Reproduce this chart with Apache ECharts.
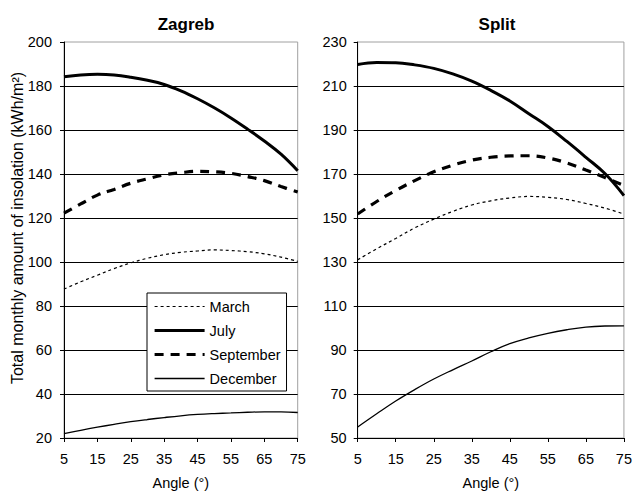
<!DOCTYPE html>
<html>
<head>
<meta charset="utf-8">
<script src="https://cdn.jsdelivr.net/npm/echarts@6/dist/echarts.min.js"></script>
<style>
html,body{margin:0;padding:0;background:#fff;}
#chart{width:635px;height:495px;}
</style>
</head>
<body>
<div id="chart"></div>
<script>
// Angles (x)
const angles = [5, 10, 15, 20, 25, 30, 35, 40, 45, 50, 55, 60, 65, 70, 75];
const xTicks = [5, 15, 25, 35, 45, 55, 65, 75];

// Zagreb
const zagrebMarch     = [87.7, 91, 94, 97, 99.6, 101.7, 103.3, 104.4, 105, 105.5, 105.2, 104.7, 103.7, 102.2, 100.3];
const zagrebJuly      = [184.2, 185, 185.3, 185, 184, 182.6, 180.7, 177.8, 174.2, 170.1, 165.5, 160.4, 155, 149, 141.5];
const zagrebSeptember = [122.2, 126.4, 130.4, 133, 135.8, 137.8, 139.6, 140.6, 141.2, 141, 140.3, 138.8, 137, 134.3, 131.8];
const zagrebDecember  = [22, 23.5, 24.9, 26.2, 27.4, 28.4, 29.3, 30.1, 30.7, 31.1, 31.4, 31.7, 31.9, 31.9, 31.6];

// Split
const splitMarch     = [131, 136, 140.7, 145.5, 149.5, 153, 155.9, 157.8, 159.1, 159.8, 159.4, 158.4, 156.6, 154.5, 151.8];
const splitJuly      = [219.8, 220.7, 220.6, 219.6, 218, 215.5, 212.2, 208, 203.2, 197.4, 191.6, 184.8, 177.6, 170.2, 160.2];
const splitSeptember = [151.8, 157.5, 162.5, 167, 171, 174, 176.3, 177.6, 178.2, 178.3, 177.3, 175, 171.8, 168.4, 164.8];
const splitDecember  = [55, 61, 66.8, 72, 76.8, 81, 85, 89.2, 92.9, 95.5, 97.6, 99.2, 100.4, 100.9, 101];

const panels = ['Zagreb', 'Split'];
const months = ['March', 'July', 'September', 'December'];
const yRanges = [[20, 200], [50, 230]];
const yName = 'Total monthly amount of insolation (kWh/m²)';
const xName = 'Angle (°)';

const FONT = 'Liberation Sans, Arial, sans-serif';
const FS = 14.5;

function pairs(vals) { return angles.map((a, i) => [a, vals[i]]); }

const styles = {
  March:     {width: 1.2, type: [3, 3]},
  July:      {width: 3, type: 'solid'},
  September: {width: 3.2, type: [9, 7]},
  December:  {width: 1.3, type: 'solid'}
};

const seriesData = [
  {March: zagrebMarch, July: zagrebJuly, September: zagrebSeptember, December: zagrebDecember},
  {March: splitMarch, July: splitJuly, September: splitSeptember, December: splitDecember}
];

const series = [];
seriesData.forEach((set, idx) => {
  months.forEach(name => {
    series.push({
      name: name,
      type: 'line',
      xAxisIndex: idx,
      yAxisIndex: idx,
      data: pairs(set[name]),
      smooth: 0.4,
      symbol: 'none',
      z: name === 'July' ? 4 : 3,
      lineStyle: {color: '#000', width: styles[name].width, type: styles[name].type},
      itemStyle: {color: '#000'}
    });
  });
});

const grids = [
  {left: 64, top: 42, width: 233.7, height: 403, show: true, borderColor: '#a0a0a0', borderWidth: 1, backgroundColor: 'transparent'},
  {left: 357.7, top: 42, width: 269, height: 403, show: true, borderColor: '#a0a0a0', borderWidth: 1, backgroundColor: 'transparent'}
];

const xAxes = [0, 1].map(i => ({
  type: 'value', gridIndex: i, min: 5, max: 75, interval: 10,
  name: xName, nameLocation: 'middle', nameGap: 37,
  nameTextStyle: {fontFamily: FONT, fontSize: FS, color: '#000'},
  axisLine: {show: true, lineStyle: {color: '#000', width: 1}},
  axisTick: {show: true, inside: false, length: 4, lineStyle: {color: '#000'}},
  axisLabel: {fontFamily: FONT, fontSize: FS, color: '#000', margin: 13,
    formatter: v => xTicks.indexOf(v) >= 0 ? String(v) : ''},
  splitLine: {show: false}
}));

const yAxes = [0, 1].map(i => ({
  type: 'value', gridIndex: i, min: yRanges[i][0], max: yRanges[i][1], interval: 20,
  axisLine: {show: true, lineStyle: {color: '#000', width: 1}},
  axisTick: {show: true, inside: false, length: 4, lineStyle: {color: '#000'}},
  axisLabel: {fontFamily: FONT, fontSize: FS, color: '#000', margin: i === 0 ? 12 : 11},
  splitLine: {show: true, showMinLine: false, showMaxLine: false, lineStyle: {color: '#000', width: 1}}
}));

const chart = echarts.init(document.getElementById('chart'), null, {renderer: 'svg'});
chart.setOption({
  backgroundColor: '#fff',
  animation: false,
  textStyle: {fontFamily: FONT},
  title: [
    {text: panels[0], left: 181, top: 11, textAlign: 'center',
      textStyle: {fontFamily: FONT, fontSize: 17, fontWeight: 'bold', color: '#000'}},
    {text: panels[1], left: 492, top: 11, textAlign: 'center',
      textStyle: {fontFamily: FONT, fontSize: 17, fontWeight: 'bold', color: '#000'}}
  ],
  graphic: [{
    type: 'text', x: 17, y: 228, rotation: Math.PI / 2,
    style: {text: yName, fontFamily: FONT, fontSize: 16, fill: '#000',
      align: 'center', verticalAlign: 'middle'}
  }],
  legend: {
    data: months.map(m => ({
      name: m,
      itemStyle: {opacity: 0},
      lineStyle: {color: '#000', width: styles[m].width, type: styles[m].type, opacity: 1}
    })),
    orient: 'vertical', left: 147, top: 293,
    itemWidth: 50, itemHeight: 14, itemGap: 9,
    padding: [6, 6, 5, 6],
    borderColor: '#000', borderWidth: 1, backgroundColor: '#fff', borderRadius: 0,
    textStyle: {fontFamily: FONT, fontSize: FS, color: '#000'}
  },
  grid: grids,
  xAxis: xAxes,
  yAxis: yAxes,
  series: series
});
</script>
</body>
</html>
